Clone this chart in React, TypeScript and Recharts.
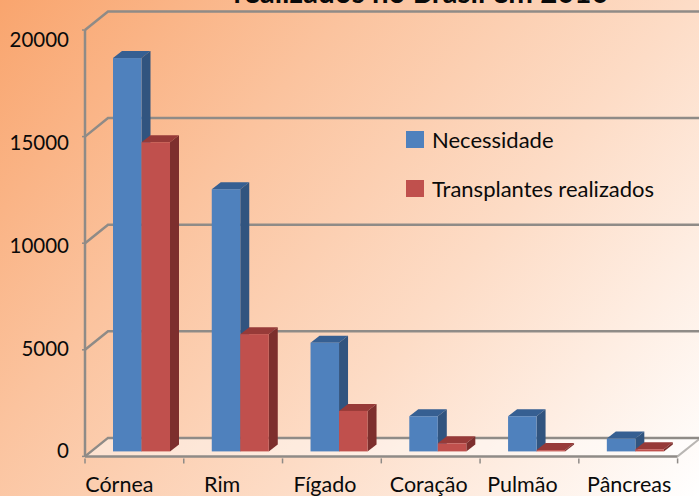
import React from "react";
import { BarChart, Bar, XAxis, YAxis, CartesianGrid, Legend } from "recharts";

const categories = ["Córnea", "Rim", "Fígado", "Coração", "Pulmão", "Pâncreas"];
const necessidade = [18450, 12300, 5100, 1650, 1650, 600];
const realizados = [14500, 5500, 1900, 380, 60, 100];
const yTicks = [0, 5000, 10000, 15000, 20000];
const titleText = "realizados no Brasil em 2010";

const rows = categories.map((name, i) => ({
  name,
  necessidade: necessidade[i],
  realizados: realizados[i],
}));

const FONT = "Lato, 'Noto Sans', sans-serif";
const GRID = "#8f8b87";
const W = 699;
const H = 496;
const BACK_X = 23;
const BACK_Y = 18.5;
const BAND = (W - 85 - 21.4) / 6;
const xLabelNudge = [-15, -11, -7, -2, -7, 1];

function box3d(front: string, side: string, top: string) {
  return (p: any) => {
    const d = 9;
    const e = 7;
    const x = p.x + 7;
    const y = p.y - 5;
    const w = p.width;
    const h = p.height;
    return (
      <g>
        <polygon points={`${x},${y} ${x + w},${y} ${x + w + d},${y - e} ${x + d},${y - e}`} fill={top} />
        <polygon points={`${x + w},${y} ${x + w + d},${y - e} ${x + w + d},${y + h - e} ${x + w},${y + h}`} fill={side} />
        <rect x={x} y={y} width={w} height={h} fill={front} />
      </g>
    );
  };
}

function gridLine(p: any) {
  const { x1, x2, y1 } = p;
  const isFloor = y1 > 450;
  return (
    <g key={p.key}>
      {isFloor && (
        <polygon
          points={`${x1},${y1} ${x1 + BACK_X},${y1 - BACK_Y} ${x2 + BACK_X},${y1 - BACK_Y} ${x2},${y1}`}
          fill="rgba(255,255,255,0.45)"
        />
      )}
      {isFloor && (
        <line x1={x2} y1={y1} x2={x2 + BACK_X} y2={y1 - BACK_Y} stroke="#b9b6b3" strokeWidth={2} />
      )}
      <polyline
        points={`${x1},${y1} ${x1 + BACK_X},${y1 - BACK_Y} ${x2 + BACK_X},${y1 - BACK_Y}`}
        fill="none"
        stroke={GRID}
        strokeWidth={2.5}
      />
    </g>
  );
}

function YTick(p: any) {
  const y = 451 - (456.4 - p.y) * 0.9648;
  return (
    <text x={69} y={y} dy="0.36em" textAnchor="end" fontFamily={FONT} fontSize={20.5} fill="#0a0a0a">
      {p.payload.value}
    </text>
  );
}

function XTick(p: any) {
  const left = p.x - BAND / 2;
  return (
    <g>
      <line x1={left} x2={left} y1={p.y - 5} y2={p.y} stroke={GRID} strokeWidth={1.5} />
      {p.index === categories.length - 1 && (
        <line x1={left + BAND} x2={left + BAND} y1={p.y - 5} y2={p.y} stroke={GRID} strokeWidth={1.5} />
      )}
      <text
        x={p.x + xLabelNudge[p.index]}
        y={484}
        dy="0.36em"
        textAnchor="middle"
        fontFamily={FONT}
        fontSize={21.5}
        fill="#0a0a0a"
      >
        {p.payload.value}
      </text>
    </g>
  );
}

function LegendBox(p: any) {
  return (
    <div style={{ fontFamily: FONT, fontSize: 22, color: "#0a0a0a" }}>
      {(p.payload || []).map((item: any) => (
        <div key={item.value} style={{ display: "flex", alignItems: "center", height: 49, whiteSpace: "nowrap" }}>
          <span style={{ width: 18, height: 17, background: item.color, marginRight: 8, display: "inline-block" }} />
          <span>{item.value}</span>
        </div>
      ))}
    </div>
  );
}

export default function App() {
  return (
    <div
      style={{
        position: "absolute",
        left: 0,
        top: 0,
        width: W,
        height: H,
        overflow: "hidden",
        background: "linear-gradient(130deg, #f9a56e 0%, #fbc39e 32%, #fddcc6 62%, #ffffff 100%)",
      }}
    >
      <div
        style={{
          position: "absolute",
          left: 221,
          top: -25,
          width: 400,
          textAlign: "center",
          whiteSpace: "nowrap",
          fontFamily: FONT,
          fontWeight: 700,
          fontSize: 29.5,
          lineHeight: "34px",
          color: "#0a0a0a",
        }}
      >
        {titleText}
      </div>
      <BarChart
        width={W}
        height={H}
        data={rows}
        margin={{ top: 30, right: 21.4, bottom: 0, left: 0 }}
        barSize={28.5}
        barGap={0}
        style={{ position: "absolute", left: 0, top: 0 }}
      >
        <CartesianGrid horizontal={gridLine} vertical={false} syncWithTicks />
        <XAxis
          dataKey="name"
          height={39.6}
          interval={0}
          tick={<XTick />}
          tickSize={5}
          tickLine={false}
          axisLine={{ stroke: GRID, strokeWidth: 2.5 }}
        />
        <YAxis
          width={85}
          domain={[0, 20000]}
          ticks={yTicks}
          interval={0}
          tick={<YTick />}
          tickSize={3}
          tickLine={{ stroke: GRID, strokeWidth: 1.5 }}
          axisLine={{ stroke: GRID, strokeWidth: 2.5 }}
        />
        <Legend
          layout="vertical"
          align="center"
          verticalAlign="middle"
          content={<LegendBox />}
          wrapperStyle={{ position: "absolute", left: 406, top: 115, width: 280, bottom: "auto" }}
        />
        <Bar dataKey="necessidade" name="Necessidade" fill="#4f81bd" isAnimationActive={false} shape={box3d("#4f81bd", "#31547f", "#365f92")} />
        <Bar dataKey="realizados" name="Transplantes realizados" fill="#c0504d" isAnimationActive={false} shape={box3d("#c0504d", "#7d2f2d", "#973a38")} />
      </BarChart>
    </div>
  );
}
